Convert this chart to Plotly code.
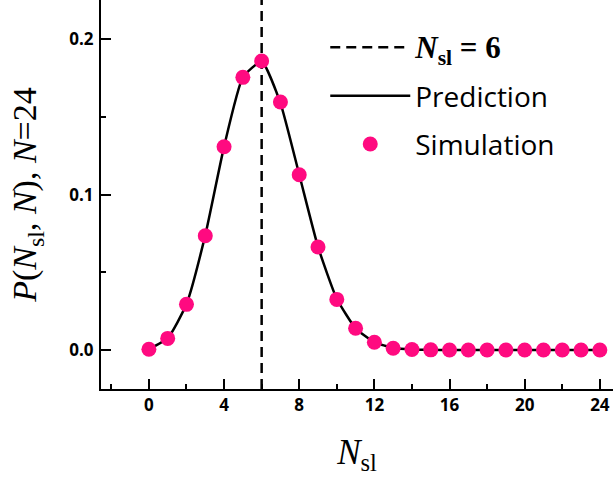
import plotly.graph_objects as go

# Number of slow-lane vehicles, N = 24 in total
n_sl = list(range(0, 25))

# Theoretical distribution P(N_sl, N)
prediction = [0.0006, 0.0076, 0.0296, 0.0740, 0.1310, 0.1756, 0.1858, 0.1590,
              0.1130, 0.0665, 0.0330, 0.0140, 0.0050, 0.0014, 0.0003, 0.0001,
              0.0, 0.0, 0.0, 0.0, 0.0, 0.0, 0.0, 0.0, 0.0]

# Simulated distribution
simulation = [0.0005, 0.0075, 0.0294, 0.0736, 0.1309, 0.1756, 0.1861, 0.1597,
              0.1129, 0.0663, 0.0326, 0.0140, 0.0050, 0.0011, 0.0003, 0.0001,
              0.0, 0.0, 0.0, 0.0, 0.0, 0.0, 0.0, 0.0, 0.0]

mean_nsl = 6
x_range = [-2.55, 24.7]
y_range = [-0.0251, 0.2254]

pink = "#FF0A80"
serif = "Liberation Serif"
sans = "Open Sans"

fig = go.Figure()

fig.add_trace(go.Scatter(
    x=[mean_nsl, mean_nsl], y=y_range, mode="lines",
    line=dict(color="black", width=2.5, dash="10px,6px"),
    name=f'<span style="font-family:{serif};font-size:31px"><b><i>N</i><sub>sl</sub> = {mean_nsl}</b></span>',
    legendgroup="a",
))

fig.add_trace(go.Scatter(
    x=n_sl, y=prediction, mode="lines",
    line=dict(color="black", width=2.5, shape="spline", smoothing=0.5),
    name="Prediction", legendgroup="b",
))

fig.add_trace(go.Scatter(
    x=n_sl, y=simulation, mode="markers",
    marker=dict(color=pink, size=15, line=dict(width=0)),
    name="Simulation", legendgroup="c",
))

fig.update_layout(
    width=613, height=479,
    margin=dict(l=101, r=0, t=0, b=90),
    paper_bgcolor="white", plot_bgcolor="white",
    showlegend=True,
    legend=dict(
        x=0.438, y=0.942, xanchor="left", yanchor="top",
        font=dict(family=sans, size=28, color="black"),
        itemwidth=80, tracegroupgap=9, traceorder="grouped",
        bgcolor="rgba(0,0,0,0)",
    ),
    font=dict(family=sans, color="black"),
)

fig.update_xaxes(
    range=x_range, tickmode="linear", tick0=0, dtick=4,
    showgrid=False, zeroline=False,
    showline=True, linecolor="black", linewidth=2,
    ticks="inside", ticklen=10, tickwidth=2, tickcolor="black",
    minor=dict(ticks="inside", ticklen=5, tickwidth=2, tickcolor="black", dtick=2, tick0=0),
    tickfont=dict(family=sans, size=17, weight="bold", color="black"),
    ticklabelstandoff=0,
    title=dict(text="<i>N</i><sub>sl</sub>", font=dict(family=serif, size=35, color="black"),
               standoff=24),
)

fig.update_yaxes(
    range=y_range, tickmode="array", tickvals=[0.0, 0.1, 0.2], tickformat=".1f",
    showgrid=False, zeroline=False,
    showline=True, linecolor="black", linewidth=2,
    ticks="inside", ticklen=10, tickwidth=2, tickcolor="black",
    minor=dict(ticks="inside", ticklen=5, tickwidth=2, tickcolor="black",
               tickvals=[0.05, 0.15]),
    tickfont=dict(family=sans, size=17, weight="bold", color="black"),
    ticklabelstandoff=2,
    title=dict(text="<i>P</i>(<i>N</i><sub>sl</sub>, <i>N</i>), <i>N</i>=24",
               font=dict(family=serif, size=34, color="black"), standoff=22),
)

fig.write_html("out.html")
